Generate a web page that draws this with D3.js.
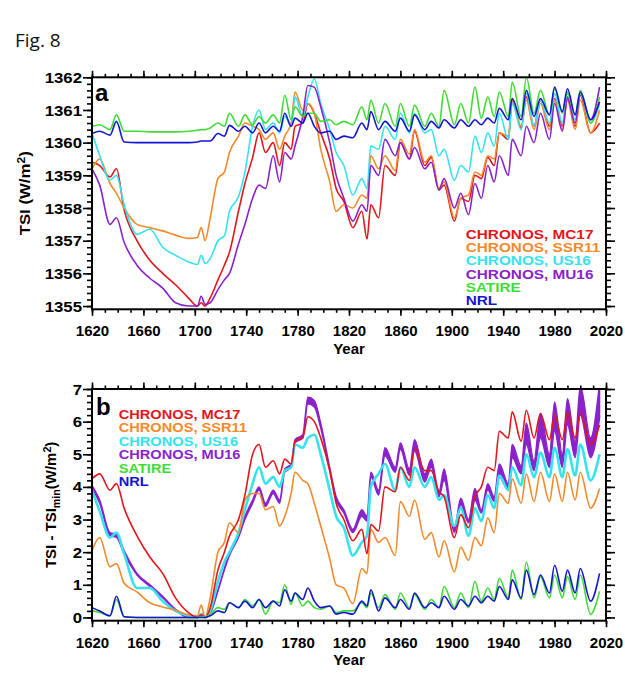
<!DOCTYPE html>
<html>
<head>
<meta charset="utf-8">
<title>Fig. 8 TSI</title>
<script src="https://cdn.jsdelivr.net/npm/d3@7"></script>
<style>
    body { margin: 0; background: #ffffff; }
    #drawing_region text { font-family: 'Liberation Sans', Arial, Helvetica, sans-serif; font-weight: bold; }
</style>
</head>
<body>
<svg id="drawing_region"></svg>
<script>
// years of the read points (mostly solar cycle minima / maxima)
const years = [1620, 1626, 1634, 1639, 1645, 1655, 1665, 1675, 1685, 1695,
               1702, 1705, 1708, 1712, 1718, 1723, 1727, 1734, 1739, 1745,
               1750, 1755, 1761, 1766, 1770, 1775, 1778, 1784, 1788, 1793,
               1798, 1805, 1810, 1816, 1823, 1830, 1834, 1837, 1843, 1848,
               1856, 1860, 1867, 1871, 1879, 1884, 1890, 1894, 1902, 1907,
               1913, 1918, 1923, 1928, 1933, 1937, 1944, 1947, 1954, 1958,
               1964, 1969, 1976, 1980, 1986, 1990, 1996, 2000, 2008, 2015];

const names = ['CHRONOS, MC17', 'CHRONOS, SSR11', 'CHRONOS, US16', 'CHRONOS, MU16', 'SATIRE', 'NRL'];
const colors = ['#e4141b', '#f4892a', '#35e3ee', '#8a22cc', '#3fdc35', '#1414d2'];

// panel a : TSI (W/m2)
const mc17_a = [1359.4, 1359.3, 1358.95, 1359.2, 1357.95, 1357.0, 1356.4, 1356.0, 1355.65, 1355.25,
                1355.0, 1355.1, 1355.0, 1355.25, 1355.8, 1356.25, 1356.65, 1357.9, 1358.75, 1359.55,
                1360.3, 1359.7, 1360.0, 1359.3, 1360.0, 1359.8, 1360.5, 1360.6, 1361.2, 1360.9,
                1360.3, 1359.5, 1358.6, 1358.2, 1357.4, 1357.9, 1357.05, 1358.1, 1357.7, 1359.3,
                1359.0, 1360.0, 1359.5, 1360.35, 1359.3, 1359.55, 1358.55, 1358.7, 1357.6, 1358.3,
                1358.2, 1359.0, 1358.9, 1359.55, 1359.3, 1360.3, 1360.1, 1361.3, 1360.45, 1361.4,
                1360.5, 1361.3, 1360.5, 1361.35, 1360.5, 1361.4, 1360.5, 1361.45, 1360.3, 1360.6];
const ssr11_a = [1359.2, 1359.5, 1358.75, 1358.45, 1358.0, 1357.5, 1357.4, 1357.3, 1357.17, 1357.07,
                 1357.1, 1357.4, 1357.0, 1357.7, 1358.9, 1359.1, 1359.7, 1360.2, 1360.6, 1360.5,
                 1360.4, 1360.1, 1360.3, 1359.8, 1360.2, 1360.6, 1361.55, 1361.0, 1361.2, 1360.9,
                 1359.8, 1358.8, 1357.9, 1358.1, 1358.0, 1358.4, 1358.3, 1359.6, 1359.2, 1359.6,
                 1359.15, 1360.1, 1359.65, 1360.4, 1359.4, 1359.6, 1358.6, 1358.8, 1357.7, 1358.3,
                 1358.4, 1359.1, 1359.0, 1359.6, 1359.5, 1360.3, 1360.2, 1361.3, 1360.5, 1361.3,
                 1360.4, 1361.2, 1360.4, 1361.3, 1360.4, 1361.3, 1360.4, 1361.3, 1360.3, 1361.0];
const us16_a = [1360.3, 1359.6, 1358.85, 1359.0, 1358.1, 1357.2, 1357.35, 1356.8, 1356.55, 1356.35,
                1356.27, 1356.55, 1356.3, 1356.45, 1357.0, 1357.15, 1357.9, 1358.35, 1359.1, 1360.5,
                1361.0, 1360.4, 1360.6, 1360.3, 1360.8, 1360.5, 1361.4, 1360.8, 1361.4, 1361.95,
                1361.2, 1360.4, 1359.7, 1359.3, 1358.4, 1358.9, 1358.6, 1359.9, 1359.8, 1360.5,
                1360.1, 1360.9, 1360.3, 1360.9, 1360.3, 1360.4, 1359.6, 1359.8, 1358.85, 1359.3,
                1359.1, 1360.2, 1359.7, 1360.3, 1359.9, 1360.9, 1360.1, 1361.2, 1360.4, 1361.5,
                1360.5, 1361.3, 1360.6, 1361.5, 1360.6, 1361.5, 1360.7, 1361.5, 1360.6, 1361.2];
const mu16_a = [1359.2, 1358.7, 1357.5, 1357.7, 1356.95, 1356.25, 1355.85, 1355.55, 1355.1, 1355.0,
                1355.0, 1355.3, 1355.05, 1355.1, 1355.5, 1355.8, 1356.0, 1356.9, 1357.5, 1358.3,
                1358.7, 1358.6, 1359.6, 1358.8, 1359.7, 1359.5, 1359.9, 1360.8, 1361.75, 1361.7,
                1361.1, 1360.0, 1359.0, 1358.3, 1357.6, 1358.1, 1357.9, 1359.3, 1359.0, 1360.1,
                1359.6, 1360.0, 1359.5, 1359.85, 1359.2, 1359.4, 1358.55, 1358.9, 1358.0, 1358.45,
                1357.8, 1358.75, 1358.3, 1359.3, 1358.8, 1359.6, 1359.0, 1360.1, 1359.6, 1360.5,
                1360.0, 1360.9, 1360.1, 1361.2, 1360.35, 1361.35, 1360.6, 1361.55, 1360.7, 1361.7];
const satire_a = [1360.5, 1360.55, 1360.4, 1360.85, 1360.35, 1360.35, 1360.33, 1360.33, 1360.33, 1360.35,
                  1360.38, 1360.4, 1360.4, 1360.45, 1360.6, 1360.5, 1360.9, 1360.5, 1360.85, 1360.55,
                  1360.8, 1360.6, 1360.85, 1360.6, 1361.45, 1360.7, 1361.1, 1360.8, 1360.9, 1360.9,
                  1360.65, 1360.7, 1360.55, 1360.65, 1360.55, 1361.1, 1360.7, 1361.3, 1360.6, 1361.2,
                  1360.5, 1361.2, 1360.5, 1361.15, 1360.5, 1360.9, 1360.5, 1361.6, 1360.55, 1361.2,
                  1360.6, 1361.7, 1360.75, 1361.4, 1360.8, 1361.55, 1360.8, 1361.85, 1360.8, 1362.0,
                  1360.9, 1361.6, 1360.85, 1361.65, 1360.9, 1361.55, 1360.85, 1361.6, 1360.6, 1361.4];
const nrl_a = [1360.28, 1360.35, 1360.23, 1360.65, 1360.02, 1360.0, 1360.0, 1360.0, 1360.0, 1360.0,
               1360.02, 1360.05, 1360.05, 1360.05, 1360.28, 1360.2, 1360.53, 1360.35, 1360.5, 1360.3,
               1360.6, 1360.3, 1360.5, 1360.35, 1360.9, 1360.5, 1360.75, 1360.6, 1360.9, 1360.5,
               1360.3, 1360.35, 1360.1, 1360.2, 1360.15, 1360.6, 1360.4, 1360.95, 1360.4, 1360.65,
               1360.35, 1360.75, 1360.35, 1360.85, 1360.4, 1360.65, 1360.45, 1360.7, 1360.45, 1360.7,
               1360.5, 1360.7, 1360.55, 1360.75, 1360.6, 1361.05, 1360.7, 1361.35, 1360.7, 1361.6,
               1360.8, 1361.35, 1360.85, 1361.7, 1360.95, 1361.65, 1360.85, 1361.55, 1360.7, 1361.25];

// panel b : TSI - TSI_min (W/m2)
const mc17_b = [4.25, 4.4, 3.9, 4.1, 3.35, 2.5, 1.85, 1.35, 0.6, 0.15,
                0.0, 0.08, 0.0, 0.3, 1.45, 2.0, 2.5, 3.0, 3.75, 5.0,
                5.3, 4.6, 4.8, 4.4, 4.85, 4.7, 5.4, 5.5, 6.15, 6.0,
                5.5, 4.5, 3.5, 3.0, 2.35, 2.7, 1.95, 2.85, 2.65, 4.0,
                3.85, 4.6, 4.2, 5.2, 4.5, 4.5, 3.85, 3.7, 2.45, 3.15,
                2.75, 3.7, 4.0, 4.6, 4.5, 5.7, 5.5, 6.3, 5.4, 6.35,
                5.5, 6.25, 5.45, 6.2, 5.45, 6.25, 5.5, 6.25, 5.3, 5.9];
const ssr11_b = [2.05, 2.45, 1.55, 1.65, 1.05, 0.78, 0.45, 0.32, 0.22, 0.08,
                 0.05, 0.38, 0.0, 0.6, 2.0, 2.3, 2.9, 2.6, 3.6, 3.8,
                 3.8, 3.3, 3.4, 2.8, 3.1, 3.8, 4.45, 4.2, 4.1, 3.5,
                 2.8, 1.8, 1.0, 0.9, 0.42, 1.5, 1.35, 2.7, 2.3, 2.45,
                 1.9, 3.55, 3.1, 3.6, 2.4, 2.6, 1.85, 2.35, 1.4, 2.15,
                 1.75, 2.45, 2.2, 3.05, 2.6, 3.8, 3.5, 4.25, 3.5, 4.4,
                 3.55, 4.45, 3.55, 4.4, 3.55, 4.45, 3.6, 4.45, 3.35, 3.95];
const us16_b = [3.9, 3.25, 2.45, 2.6, 1.95, 0.9, 0.9, 0.5, 0.2, 0.05,
                0.0, 0.1, 0.0, 0.2, 1.1, 1.7, 2.0, 2.6, 3.3, 4.1,
                4.6, 4.1, 4.3, 4.0, 4.5, 4.6, 5.3, 5.2, 5.5, 5.6,
                5.0, 3.9, 3.1, 2.75, 1.9, 2.3, 2.5, 4.0, 4.4, 4.7,
                3.9, 4.6, 4.0, 4.6, 4.0, 4.3, 3.6, 3.75, 2.8, 3.35,
                2.5, 3.35, 2.95, 3.75, 3.35, 4.35, 3.9, 4.6, 4.05, 5.0,
                4.3, 5.05, 4.3, 5.2, 4.3, 5.15, 4.35, 5.3, 4.2, 5.0];
const mu16_b_high = [4.05, 3.6, 2.6, 2.55, 2.05, 1.35, 1.0, 0.65, 0.25, 0.03,
                     0.02, 0.12, 0.02, 0.15, 0.85, 1.5, 2.0, 2.55, 3.1, 3.6,
                     4.0, 3.5, 3.9, 3.6, 4.55, 4.7, 5.45, 5.6, 6.75, 6.65,
                     5.95, 4.6, 3.7, 3.3, 2.7, 3.3, 3.1, 4.45, 3.9, 5.2,
                     4.6, 5.35, 4.55, 5.45, 4.4, 4.85, 3.85, 4.55, 2.75, 3.65,
                     3.0, 3.95, 3.3, 4.1, 3.7, 4.7, 4.1, 5.3, 4.65, 5.95,
                     4.8, 6.25, 5.0, 6.6, 5.0, 6.7, 5.4, 7.1, 5.5, 7.2];
const mu16_b_low = [3.95, 3.5, 2.5, 2.45, 1.95, 1.3, 0.95, 0.6, 0.22, 0.0,
                    0.0, 0.08, 0.0, 0.12, 0.8, 1.45, 1.9, 2.45, 3.0, 3.5,
                    3.9, 3.4, 3.8, 3.5, 4.45, 4.6, 5.35, 5.5, 6.55, 6.45,
                    5.8, 4.5, 3.6, 3.2, 2.6, 3.1, 2.95, 4.3, 3.75, 4.95,
                    4.45, 5.15, 4.35, 5.1, 4.15, 4.6, 3.7, 4.2, 2.6, 3.45,
                    2.9, 3.6, 3.2, 3.9, 3.55, 4.3, 3.9, 4.9, 4.4, 5.3,
                    4.5, 5.5, 4.6, 5.7, 4.6, 5.9, 4.9, 6.2, 4.9, 6.1];
const satire_b = [0.2, 0.15, 0.05, 0.55, 0.02, 0.0, 0.0, 0.0, 0.0, 0.0,
                  0.0, 0.02, 0.02, 0.1, 0.3, 0.25, 0.45, 0.3, 0.55, 0.35,
                  0.55, 0.1, 0.5, 0.45, 1.0, 0.4, 0.75, 0.35, 0.5, 0.3,
                  0.25, 0.35, 0.15, 0.2, 0.2, 0.45, 0.3, 0.75, 0.3, 0.7,
                  0.25, 0.75, 0.3, 0.7, 0.25, 0.55, 0.3, 0.95, 0.3, 0.75,
                  0.3, 1.1, 0.5, 0.9, 0.55, 1.2, 0.6, 1.45, 0.55, 1.7,
                  0.6, 1.25, 0.6, 1.3, 0.6, 1.25, 0.55, 1.3, 0.1, 0.8];
const nrl_b = [0.3, 0.2, 0.05, 0.65, 0.02, 0.0, 0.0, 0.0, 0.0, 0.0,
               0.0, 0.0, 0.0, 0.05, 0.2, 0.15, 0.45, 0.3, 0.5, 0.3,
               0.55, 0.3, 0.5, 0.35, 0.85, 0.5, 0.75, 0.55, 0.9, 0.5,
               0.3, 0.35, 0.1, 0.15, 0.1, 0.5, 0.35, 0.85, 0.2, 0.6,
               0.3, 0.55, 0.25, 0.75, 0.3, 0.45, 0.3, 0.65, 0.25, 0.55,
               0.35, 0.65, 0.45, 0.65, 0.5, 0.95, 0.55, 1.15, 0.6, 1.45,
               0.7, 1.3, 0.75, 1.6, 0.8, 1.45, 0.75, 1.5, 0.5, 1.35];

// tick labels
const year_ticks = [1620, 1660, 1700, 1740, 1780, 1820, 1860, 1900, 1940, 1980, 2020];
const tsi_ticks = [1355, 1356, 1357, 1358, 1359, 1360, 1361, 1362];
const diff_ticks = [0, 1, 2, 3, 4, 5, 6, 7];

const svg = d3.select('#drawing_region')
    .attr('width', 625)
    .attr('height', 680);

svg.append('text')
    .attr('x', 15)
    .attr('y', 47)
    .attr('style', "font-family:'Open Sans', 'DejaVu Sans', sans-serif; font-weight:normal; font-size:19px")
    .attr('fill', '#111')
    .text('Fig. 8');

class TsiPanel {

    constructor( config, lines, band ) {
        this.config = config;
        this.lines = lines;
        this.band = band;
        this.init();
    }

    init() {
        let self = this;
        const cfg = self.config;

        self.inner_width = cfg.width;
        self.inner_height = cfg.height;

        self.chart = svg.append('g')
            .attr('transform', `translate(${cfg.left}, ${cfg.top})`);

        self.xscale = d3.scaleLinear()
            .domain([1620, 2020])
            .range([0, self.inner_width]);

        self.yscale = d3.scaleLinear()
            .domain(cfg.ydomain)
            .range([self.inner_height, 0]);

        self.chart.append('clipPath')
            .attr('id', `clip_${cfg.name}`)
            .append('rect')
            .attr('width', self.inner_width)
            .attr('height', self.inner_height);

        self.plot = self.chart.append('g')
            .attr('clip-path', `url(#clip_${cfg.name})`);
    }

    tickGroup( axis, transform ) {
        let self = this;
        return self.chart.append('g')
            .attr('transform', transform)
            .call(axis)
            .call(g => g.select('.domain').remove())
            .call(g => g.selectAll('line').attr('stroke', '#000').attr('stroke-width', 1.6));
    }

    render() {
        let self = this;
        const cfg = self.config;
        const w = self.inner_width, h = self.inner_height;
        const year_minor = d3.range(1620, 2021, 10);
        const y_minor = d3.range(cfg.ydomain[0] + 0.1, cfg.ydomain[1] + 0.01, 0.2);

        // minor ticks
        self.tickGroup(d3.axisBottom(self.xscale).tickValues(year_minor).tickSize(3.5).tickFormat(''), `translate(0, ${h})`);
        self.tickGroup(d3.axisTop(self.xscale).tickValues(year_minor).tickSize(3.5).tickFormat(''), 'translate(0, 0)');
        self.tickGroup(d3.axisLeft(self.yscale).tickValues(y_minor).tickSize(5).tickFormat(''), 'translate(0, 0)');
        self.tickGroup(d3.axisRight(self.yscale).tickValues(y_minor).tickSize(5).tickFormat(''), `translate(${w}, 0)`);

        // major ticks
        self.tickGroup(d3.axisTop(self.xscale).tickValues(year_ticks).tickSize(6.5).tickFormat(''), 'translate(0, 0)');
        self.tickGroup(d3.axisRight(self.yscale).tickValues(cfg.yticks).tickSize(9).tickFormat(''), `translate(${w}, 0)`);

        self.tickGroup(d3.axisBottom(self.xscale).tickValues(year_ticks).tickSize(6.5).tickPadding(10).tickFormat(d3.format('d')), `translate(0, ${h})`)
            .call(g => g.selectAll('text').attr('font-size', 15).attr('fill', '#000'));

        self.tickGroup(d3.axisLeft(self.yscale).tickValues(cfg.yticks).tickSize(9).tickFormat(d3.format('d')), 'translate(0, 0)')
            .call(g => g.selectAll('text')
                .attr('x', -10 / 1.2)
                .attr('dy', '0.36em')
                .attr('transform', 'scale(1.2,1)')
                .attr('font-size', 14)
                .attr('fill', '#000'));

        // series
        const line = d3.line()
            .x((d, i) => self.xscale(years[i]))
            .y(d => self.yscale(d))
            .curve(d3.curveMonotoneX);

        if (self.band) {
            const area = d3.area()
                .x((d, i) => self.xscale(years[i]))
                .y0((d, i) => self.yscale(self.band.low[i]))
                .y1((d, i) => self.yscale(self.band.high[i]))
                .curve(d3.curveMonotoneX);
            self.plot.append('path')
                .datum(self.band.high)
                .attr('d', area)
                .attr('fill', self.band.color)
                .attr('stroke', self.band.color)
                .attr('stroke-width', 1.4)
                .attr('stroke-linejoin', 'round');
        }

        self.plot.selectAll('.series')
            .data(self.lines)
            .join('path')
            .attr('class', 'series')
            .attr('d', d => line(d.values))
            .attr('fill', 'none')
            .attr('stroke', d => d.color)
            .attr('stroke-width', d => d.width || 1.6)
            .attr('stroke-linejoin', 'round');

        // frame
        self.chart.append('rect')
            .attr('width', w)
            .attr('height', h)
            .attr('fill', 'none')
            .attr('stroke', '#000')
            .attr('stroke-width', 2);

        // labels
        self.chart.append('text')
            .attr('x', cfg.letter[0])
            .attr('y', cfg.letter[1])
            .attr('font-size', 24)
            .attr('fill', '#000')
            .text(cfg.name);

        self.chart.append('text')
            .attr('x', w / 2)
            .attr('y', h + 44.5)
            .attr('text-anchor', 'middle')
            .attr('font-size', 15)
            .attr('fill', '#000')
            .text('Year');

        const ytitle = self.chart.append('text')
            .attr('transform', `translate(${cfg.ytitle_x}, ${h / 2}) rotate(-90) scale(${cfg.ytitle_stretch},1)`)
            .attr('text-anchor', 'middle')
            .attr('font-size', 14)
            .attr('fill', '#000');
        cfg.ytitle.forEach(p => {
            ytitle.append('tspan')
                .attr('dy', p.dy || 0)
                .attr('font-size', p.size || 14)
                .text(p.t);
        });

        self.chart.append('g')
            .selectAll('text')
            .data(names)
            .join('text')
            .attr('transform', (d, i) => `translate(${cfg.legend.x}, ${cfg.legend.y + i * cfg.legend.step}) scale(${cfg.legend.stretch},1)`)
            .attr('font-size', cfg.legend.size)
            .attr('fill', (d, i) => colors[i])
            .text(d => d);
    }
}

const panel_a = new TsiPanel({
    name: 'a', left: 92, top: 77.3, width: 514, height: 232,
    ydomain: [1354.9, 1362], yticks: tsi_ticks,
    letter: [3, 23.7],
    ytitle_x: -62, ytitle_stretch: 1.2,
    ytitle: [{t: 'TSI (W/m'}, {t: '2', dy: -5, size: 10}, {t: ')', dy: 5}],
    legend: {x: 373.7, y: 161.7, step: 13.2, stretch: 1.18, size: 13}
}, [
    {values: mc17_a, color: colors[0]},
    {values: ssr11_a, color: colors[1]},
    {values: us16_a, color: colors[2]},
    {values: mu16_a, color: colors[3]},
    {values: satire_a, color: colors[4]},
    {values: nrl_a, color: colors[5]}
]);
panel_a.render();

const panel_b = new TsiPanel({
    name: 'b', left: 92, top: 389, width: 514, height: 231.7,
    ydomain: [-0.1, 7], yticks: diff_ticks,
    letter: [4, 26],
    ytitle_x: -36, ytitle_stretch: 1.07,
    ytitle: [{t: 'TSI - TSI'}, {t: 'min', dy: 4, size: 10}, {t: '(W/m', dy: -4}, {t: '2', dy: -5, size: 10}, {t: ')', dy: 5}],
    legend: {x: 26.7, y: 30, step: 13.4, stretch: 1.17, size: 12.5}
}, [
    {values: us16_b, color: colors[2], width: 2.6},
    {values: ssr11_b, color: colors[1]},
    {values: mc17_b, color: colors[0]},
    {values: satire_b, color: colors[4]},
    {values: nrl_b, color: colors[5]}
], {low: mu16_b_low, high: mu16_b_high, color: colors[3]});
panel_b.render();
</script>
</body>
</html>
